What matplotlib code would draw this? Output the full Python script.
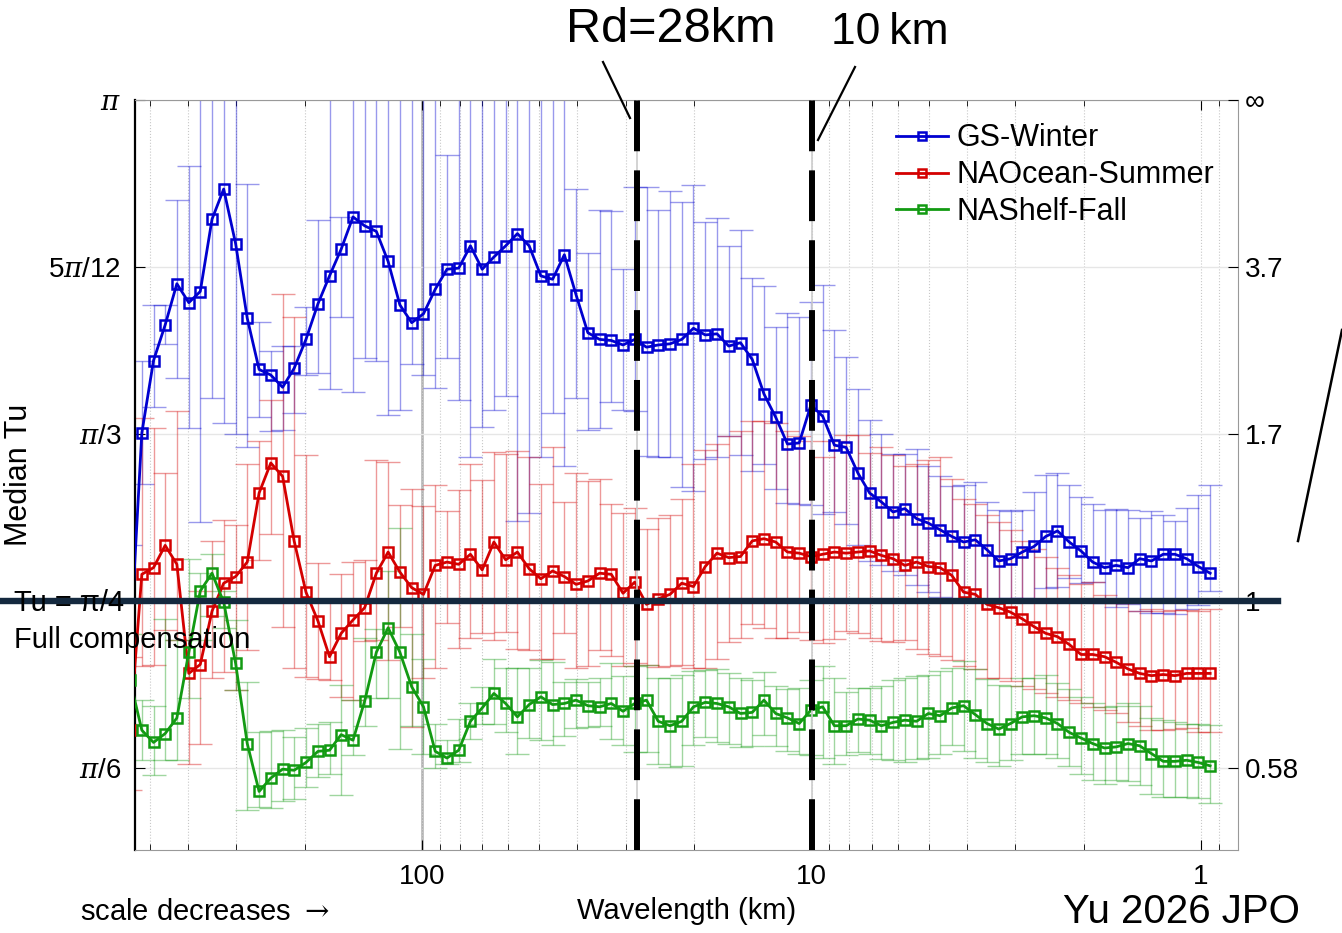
import numpy as np
import matplotlib
matplotlib.use('Agg')
import matplotlib.pyplot as plt
from matplotlib.lines import Line2D
from matplotlib.ticker import NullFormatter

plt.rcParams['font.family'] = ['Liberation Sans', 'DejaVu Sans']
plt.rcParams['mathtext.fontset'] = 'dejavuserif'

# wavelength bins (km)
wavelength_km = [562, 524, 489, 456.5, 426, 397, 371, 346, 323, 301, 281, 262, 244.5, 228, 213,
                 198.6, 185, 172.8, 161.3, 150.4, 140.4, 131, 122.2, 114, 106.3, 99.14, 92.5, 86.3,
                 80.51, 75.12, 70.08, 65.39, 61.0, 56.91, 53.09, 49.54, 46.22, 43.12, 40.23, 37.53,
                 35.02, 32.67, 30.48, 28.44, 26.53, 24.75, 23.09, 21.54, 20.10, 18.75, 17.49, 16.32,
                 15.22, 14.20, 13.25, 12.36, 11.53, 10.76, 10.04, 9.365, 8.737, 8.152, 7.605, 7.095,
                 6.62, 6.176, 5.762, 5.375, 5.015, 4.679, 4.365, 4.072, 3.799, 3.545, 3.307, 3.085,
                 2.878, 2.685, 2.505, 2.337, 2.18, 2.034, 1.898, 1.77, 1.652, 1.541, 1.438, 1.341,
                 1.251, 1.167, 1.089, 1.016, 0.948]

# median Tu and error-bar bounds, in degrees
gs_med = [40.6, 60.1, 66.6, 69.8, 73.5, 71.8, 72.8, 79.3, 82.0, 77.1, 70.4,
          65.8, 65.3, 64.2, 65.9, 68.5, 71.7, 74.2, 76.6, 79.5, 78.7,
          78.2, 75.5, 71.6, 70.0, 70.8, 73.0, 74.8, 74.9, 76.9, 74.8,
          75.9, 76.9, 78.0, 76.9, 74.2, 73.9, 76.1, 72.5, 69.1, 68.5,
          68.4, 68.0, 68.5, 67.8, 68.0, 68.1, 68.5, 69.5, 68.9, 69.0,
          67.9, 68.2, 66.7, 63.6, 61.5, 59.1, 59.2, 62.6, 61.6, 59.0,
          58.8, 56.5, 54.7, 53.9, 53.0, 53.3, 52.4, 52.0, 51.4, 50.8,
          50.3, 50.5, 49.6, 48.6, 48.8, 49.4, 49.9, 50.8, 51.3, 50.3,
          49.5, 48.5, 48.0, 48.2, 48.0, 48.8, 48.6, 49.2, 49.2, 48.8,
          48.1, 47.5]
gs_lo = [33.0, 55.5, 62.4, 68.1, 65.0, 60.5, 52.1, 63.2, 61.0, 60.0, 58.8,
         61.5, 60.3, 60.4, 61.9, 65.3, 65.5, 64.0, 70.5, 63.8, 66.8,
         66.6, 61.7, 62.2, 66.3, 65.3, 64.1, 66.8, 63.1, 57.9, 60.6,
         62.2, 63.4, 52.2, 52.9, 57.9, 61.9, 57.1, 63.2, 60.4, 60.5,
         62.9, 62.2, 62.1, 58.0, 57.9, 57.9, 55.2, 54.9, 57.8, 57.9,
         59.8, 58.1, 56.7, 57.3, 55.1, 53.8, 53.7, 53.6, 52.8, 53.0,
         51.9, 50.0, 48.6, 48.2, 47.7, 47.3, 46.4, 45.8, 45.4, 45.2,
         45.0, 45.0, 45.0, 45.0, 45.3, 45.3, 45.2, 46.2, 46.3, 47.1,
         46.6, 46.7, 44.8, 44.5, 44.7, 44.1, 43.9, 43.9, 43.8, 44.3,
         44.6, 45.9]
gs_hi = [50.0, 66.6, 71.6, 71.6, 81.0, 84.1, 92, 92, 92, 92, 82.5,
         70.1, 67.5, 67.9, 67.9, 71.4, 79.2, 92, 79.5, 92, 92,
         92, 92, 92, 92, 92, 92, 85.1, 92, 92, 92,
         92, 92, 92, 92, 92, 92, 92, 82.0, 76.3, 80.1,
         80.0, 74.8, 82.2, 82.2, 80.1, 81.8, 80.8, 82.4, 79.0, 79.4,
         76.9, 78.3, 74.0, 73.3, 69.6, 70.9, 70.5, 71.9, 73.4, 69.3,
         66.9, 64.0, 61.3, 60.0, 58.2, 58.2, 58.7, 57.1, 56.2, 55.3,
         55.4, 55.7, 53.9, 53.2, 53.1, 53.2, 54.8, 56.3, 56.5, 55.4,
         54.3, 53.7, 53.2, 53.3, 53.2, 52.5, 53.1, 52.7, 52.2, 53.4,
         54.5, 55.4]

nao_med = [33.4, 47.4, 48.0, 50.0, 48.3, 38.5, 39.3, 44.1, 46.6, 47.2, 48.5,
           54.7, 57.4, 56.2, 50.4, 45.8, 43.2, 40.0, 42.1, 43.3, 44.4,
           47.5, 49.4, 47.6, 46.2, 45.6, 48.2, 48.5, 48.3, 49.2, 47.8,
           50.3, 48.7, 49.4, 47.9, 47.0, 47.7, 47.2, 46.5, 46.8, 47.5,
           47.4, 45.7, 46.7, 44.7, 45.2, 45.6, 46.6, 46.3, 48.1, 49.3,
           48.9, 49.0, 50.4, 50.6, 50.3, 49.4, 49.3, 49.0, 49.2, 49.4,
           49.3, 49.4, 49.5, 49.1, 48.8, 48.2, 48.5, 48.1, 48.0, 47.3,
           45.8, 45.6, 44.7, 44.4, 44.0, 43.4, 42.7, 42.1, 41.8, 41.1,
           40.2, 40.2, 40.0, 39.5, 38.9, 38.5, 38.3, 38.4, 38.3, 38.5,
           38.5, 38.5]
nao_lo = [28.0, 39.2, 39.3, 42.4, 41.5, 30.4, 32.2, 38.1, 38.6, 37.0, 40.6,
          48.7, 51.0, 42.7, 39.0, 38.2, 38.0, 37.9, 36.4, 36.1, 41.4,
          41.5, 39.7, 42.7, 33.7, 38.1, 39.0, 43.0, 40.8, 41.7, 42.1,
          41.5, 42.2, 40.7, 40.6, 39.8, 39.8, 42.1, 39.0, 39.2, 40.6,
          40.1, 39.2, 39.4, 39.3, 39.1, 39.2, 39.3, 39.0, 39.0, 39.8,
          41.3, 41.7, 42.9, 42.6, 41.7, 41.7, 42.2, 41.5, 41.2, 41.6,
          42.3, 42.1, 41.7, 41.4, 41.3, 41.5, 40.7, 40.2, 40.1, 39.7,
          39.2, 38.9, 38.1, 38.1, 37.8, 37.4, 37.1, 36.7, 36.4, 36.1,
          35.8, 35.5, 35.2, 34.9, 34.1, 33.8, 33.4, 33.4, 33.5, 33.6,
          33.2, 33.2]
nao_hi = [40.0, 61.4, 60.5, 56.5, 62.1, 45.0, 45.9, 50.4, 52.3, 51.8, 57.3,
          59.4, 63.1, 72.6, 70.5, 58.1, 48.4, 45.0, 47.4, 48.5, 48.7,
          57.7, 57.5, 53.6, 55.1, 53.5, 55.4, 53.1, 55.0, 57.3, 55.9,
          58.4, 58.2, 58.5, 57.9, 55.5, 58.8, 53.9, 56.5, 55.8, 56.0,
          53.7, 52.9, 53.4, 51.5, 52.5, 52.7, 54.2, 57.3, 58.6, 59.1,
          59.8, 60.3, 61.2, 61.2, 61.0, 60.3, 59.8, 59.4, 57.9, 59.4,
          59.9, 59.9, 58.3, 58.8, 58.1, 57.1, 57.3, 57.7, 57.9, 56.0,
          54.2, 53.7, 52.7, 52.1, 51.4, 50.4, 49.7, 49.0, 48.0, 47.3,
          46.5, 46.7, 45.5, 44.8, 44.8, 44.1, 44.3, 44.1, 44.2, 44.2,
          44.1, 44.3]

nas_med = [37.9, 33.4, 32.3, 33.1, 34.5, 40.4, 45.9, 47.5, 44.9, 39.4, 32.2,
           27.9, 29.1, 29.9, 29.8, 30.5, 31.5, 31.6, 33.0, 32.5, 36.0,
           40.4, 42.6, 40.4, 37.3, 35.5, 31.5, 30.9, 31.6, 34.2, 35.4,
           36.7, 35.8, 34.6, 35.7, 36.4, 35.7, 35.8, 36.1, 35.6, 35.5,
           35.8, 35.1, 35.8, 36.1, 34.2, 33.8, 34.2, 35.5, 35.9, 35.8,
           35.5, 34.9, 35.0, 36.1, 34.9, 34.5, 34.0, 35.2, 35.5, 33.8,
           33.8, 34.4, 34.3, 33.8, 34.1, 34.3, 34.2, 34.9, 34.7, 35.4,
           35.6, 34.8, 34.0, 33.5, 34.0, 34.6, 34.7, 34.5, 34.0, 33.2,
           32.7, 32.2, 31.8, 31.9, 32.2, 32.0, 31.3, 30.6, 30.6, 30.7,
           30.5, 30.2]
nas_lo = [34.0, 30.7, 29.4, 30.7, 30.7, 36.3, 41.5, 43.7, 42.6, 37.0, 26.2,
          26.5, 26.4, 27.0, 27.2, 28.3, 29.2, 29.5, 27.6, 31.2, 33.8,
          36.3, 36.3, 31.7, 33.8, 31.3, 30.0, 30.4, 30.5, 32.6, 34.0,
          34.0, 33.2, 31.3, 32.7, 32.5, 32.1, 32.9, 33.6, 33.7, 33.8,
          32.6, 32.1, 31.4, 31.4, 30.4, 30.1, 30.2, 32.1, 32.8, 32.3,
          32.2, 31.9, 32.0, 33.0, 32.0, 31.5, 31.3, 31.2, 30.9, 30.4,
          31.2, 31.4, 31.3, 30.8, 30.7, 30.5, 30.8, 30.9, 31.3, 32.1,
          31.5, 30.9, 30.5, 30.2, 30.7, 31.3, 31.3, 31.3, 30.9, 30.2,
          29.5, 28.9, 28.6, 28.9, 28.8, 28.5, 27.7, 27.4, 27.4, 27.4,
          27.3, 26.9]
nas_hi = [42.0, 36.1, 35.6, 43.4, 41.5, 48.8, 47.5, 49.2, 45.9, 43.3, 37.7,
          33.2, 33.3, 33.4, 32.8, 33.6, 34.0, 34.1, 37.5, 36.1, 41.7,
          42.5, 47.7, 51.6, 42.0, 39.8, 34.0, 32.5, 34.4, 35.8, 37.3,
          39.8, 39.0, 39.0, 39.0, 39.7, 39.5, 37.7, 38.0, 37.7, 38.1,
          39.4, 38.3, 39.2, 39.3, 38.1, 38.1, 38.4, 38.7, 38.8, 38.9,
          38.5, 38.1, 37.9, 38.6, 37.4, 37.1, 37.2, 37.9, 39.2, 38.1,
          36.8, 37.2, 37.2, 37.4, 37.9, 38.1, 38.3, 38.4, 38.7, 39.0,
          39.6, 38.9, 38.0, 37.5, 37.4, 38.1, 38.1, 38.4, 37.6, 37.1,
          36.4, 35.8, 35.5, 35.6, 35.8, 35.6, 34.5, 34.3, 34.1, 34.0,
          34.0, 33.9]

series_names = ['GS-Winter', 'NAOcean-Summer', 'NAShelf-Fall']
series_colors = ['#0000d0', '#d40000', '#129a12']

right_labels = ['0.58', '1', '1.7', '3.7', '\u221e']
left_labels = [r'$\pi$/6', '', r'$\pi$/3', r'5$\pi$/12', r'$\pi$']
ytick_vals = [np.pi / 6, np.pi / 4, np.pi / 3, 5 * np.pi / 12, np.pi / 2]

fig = plt.figure(figsize=(13.42, 9.33), dpi=100)
ax = fig.add_axes([135 / 1342, 1 - 850 / 933, 1103 / 1342, 750 / 933])

x = np.array(wavelength_km)
data = [(gs_med, gs_lo, gs_hi), (nao_med, nao_lo, nao_hi), (nas_med, nas_lo, nas_hi)]

# error bars first, light
for (med, lo, hi), col in zip(data, series_colors):
    m = np.deg2rad(med)
    l = np.deg2rad(lo)
    h = np.deg2rad(hi)
    ax.errorbar(x, m, yerr=[np.clip(m - l, 0, None), np.clip(h - m, 0, None)], fmt='none',
                ecolor=col, alpha=0.4, elinewidth=1.0, capsize=8.5, capthick=1.0, zorder=2)

lines = []
for (med, lo, hi), col, name in zip(data, series_colors, series_names):
    ln, = ax.plot(x, np.deg2rad(med), '-s', color=col, lw=2.0, ms=7.5, mfc='none',
                  mew=1.8, label=name, zorder=3)
    lines.append(ln)

ax.set_xscale('log')
ax.set_xlim(545.6, 0.804)
ax.set_ylim(np.deg2rad(22.64), np.pi / 2)

ax.set_xticks([100, 10, 1])
ax.set_xticklabels(['100', '10', '1'])
ax.xaxis.set_minor_formatter(NullFormatter())
ax.set_yticks(ytick_vals)
ax.set_yticklabels(left_labels)
ax.tick_params(axis='both', which='major', direction='in', length=7, labelsize=20, pad=10)
ax.tick_params(axis='x', which='minor', direction='in', length=4)
ax.tick_params(axis='x', top=True, which='both')

ax.grid(True, axis='x', which='both', ls=':', color='#c8c8c8', lw=0.8)
ax.grid(True, axis='y', which='major', ls='-', color='#e6e6e6', lw=1.0)

for side in ['top', 'right', 'bottom']:
    ax.spines[side].set_color('#999999')
    ax.spines[side].set_linewidth(0.8)
ax.spines['left'].set_color('black')
ax.spines['left'].set_linewidth(1.6)

# reference lines
ax.axvline(100, color='#b0b0b0', lw=1.8, zorder=1)
for xv in [28, 10]:
    ax.axvline(xv, color='#cccccc', lw=1.2, zorder=6)
    ax.axvline(xv, color='black', lw=4.3, dashes=(8.5, 3.2), zorder=7)

ax.set_ylabel('Median Tu', fontsize=22)
ax.yaxis.set_label_coords(-0.092, 0.5)
ax.set_xlabel('Wavelength (km)', fontsize=21)
ax.xaxis.set_label_coords(0.5, -0.063)

leg = ax.legend(handles=lines, loc='upper right', bbox_to_anchor=(0.99, 0.985), frameon=False,
                fontsize=22, handlelength=1.7, handletextpad=0.3, labelspacing=0.22,
                markerscale=0.7, borderaxespad=0)

ax2 = ax.twinx()
ax2.set_ylim(ax.get_ylim())
ax2.set_yticks(ytick_vals)
ax2.set_yticklabels(right_labels)
ax2.tick_params(axis='y', direction='in', length=7, labelsize=20, pad=5)
for side in ['top', 'right', 'bottom', 'left']:
    ax2.spines[side].set_visible(False)

# full compensation line
ax2.plot([-0.1224, 1.0363], [np.pi / 4, np.pi / 4], transform=ax2.get_yaxis_transform(),
         color='#14293f', lw=4.6, clip_on=False, zorder=10)

fig.text(14 / 1342, 1 - 603 / 933, 'Tu = \u03c0/4', fontsize=21, va='center', ha='left')
fig.text(14 / 1342, 1 - 640 / 933, 'Full compensation', fontsize=21, va='center', ha='left')

fig.text(671 / 1342, 1 - 30 / 933, 'Rd=28km', fontsize=35, va='center', ha='center')
fig.text(890 / 1342, 1 - 33 / 933, '10\u2009km', fontsize=32, va='center', ha='center')
fig.add_artist(Line2D([603 / 1342, 630 / 1342], [1 - 62 / 933, 1 - 118 / 933], color='k', lw=1.6))
fig.add_artist(Line2D([855 / 1342, 818 / 1342], [1 - 67 / 933, 1 - 140 / 933], color='k', lw=1.6))
fig.add_artist(Line2D([1298 / 1342, 1342 / 1342], [1 - 541 / 933, 1 - 330 / 933], color='k', lw=1.8))

fig.text(80 / 1342, 1 - 912 / 933, r'scale decreases $\rightarrow$', fontsize=21, va='center', ha='left')
fig.text(1063 / 1342, 1 - 912 / 933, 'Yu 2026 JPO', fontsize=29, va='center', ha='left')

fig.savefig('out.png', dpi=100)
